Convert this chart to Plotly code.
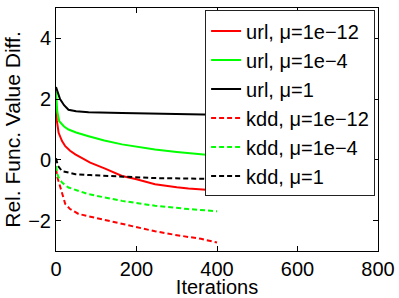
import plotly.graph_objects as go

# url, mu=1e-12 (red solid)
url_e12_x = [0, 2, 6.5, 15, 23, 35, 48, 64, 85, 122, 164, 200, 246, 300, 329, 408, 460, 500]
url_e12_y = [1.76, 1.3, 0.89, 0.62, 0.45, 0.3, 0.18, 0.07, -0.09, -0.29, -0.53, -0.64, -0.8, -0.9, -0.94, -1.02, -1.08, -1.15]
# url, mu=1e-4 (green solid)
url_e4_x = [0, 3, 8, 20, 31, 50, 81, 120, 164, 200, 246, 300, 383, 440, 500]
url_e4_y = [2.25, 1.6, 1.27, 1.1, 1.0, 0.9, 0.78, 0.64, 0.51, 0.43, 0.34, 0.26, 0.15, 0.09, 0.04]
# url, mu=1 (black solid)
url_1_x = [0, 5, 10, 20, 31, 50, 81, 164, 246, 383, 500]
url_1_y = [2.4, 2.18, 2.0, 1.8, 1.65, 1.6, 1.57, 1.54, 1.52, 1.49, 1.46]
# kdd, mu=1e-12 (red dashed)
kdd_e12_x = [0, 4, 11, 17, 23, 35, 56, 98, 164, 246, 296, 329, 360, 400]
kdd_e12_y = [-0.3, -0.6, -0.91, -1.2, -1.45, -1.62, -1.78, -1.91, -2.11, -2.35, -2.47, -2.54, -2.6, -2.72]
# kdd, mu=1e-4 (green dashed)
kdd_e4_x = [0, 3, 6.5, 15, 31, 81, 164, 246, 329, 400]
kdd_e4_y = [-0.2, -0.45, -0.58, -0.75, -0.91, -1.13, -1.35, -1.51, -1.62, -1.69]
# kdd, mu=1 (black dashed)
kdd_1_x = [0, 5, 15, 48, 85, 164, 246, 362, 400]
kdd_1_y = [0.05, -0.2, -0.37, -0.47, -0.5, -0.56, -0.6, -0.62, -0.63]

names = ["url, μ=1e−12", "url, μ=1e−4", "url, μ=1",
         "kdd, μ=1e−12", "kdd, μ=1e−4", "kdd, μ=1"]
xs = [url_e12_x, url_e4_x, url_1_x, kdd_e12_x, kdd_e4_x, kdd_1_x]
ys = [url_e12_y, url_e4_y, url_1_y, kdd_e12_y, kdd_e4_y, kdd_1_y]
colors = ["#ff0000", "#00ff00", "#000000", "#ff0000", "#00ff00", "#000000"]
dashes = ["solid", "solid", "solid", "5px,3px", "5px,3px", "5px,3px"]

x_ticks = [0, 200, 400, 600, 800]
y_ticks = [-2, 0, 2, 4]

fig = go.Figure()
for i in range(6):
    fig.add_trace(go.Scatter(x=xs[i], y=ys[i], mode="lines", name=names[i],
                             line=dict(color=colors[i], width=2, dash=dashes[i])))

font = "Liberation Sans, Arial, Helvetica, sans-serif"
fig.update_layout(
    width=399, height=298,
    margin=dict(l=56, r=21, t=8, b=47, autoexpand=False),
    paper_bgcolor="white", plot_bgcolor="white",
    font=dict(family=font, size=20, color="black"),
    showlegend=True,
    legend=dict(x=0.991, y=0.99, xanchor="right", yanchor="top",
                bgcolor="white", bordercolor="#222", borderwidth=1,
                font=dict(size=20), itemwidth=30, tracegroupgap=0),
    xaxis=dict(range=[0, 800], tickvals=x_ticks, ticks="inside", ticklen=5,
               showline=True, linecolor="black", linewidth=1, mirror="ticks",
               showgrid=False, zeroline=False, tickcolor="black", automargin=False,
               title=dict(text="Iterations", font=dict(size=20), standoff=0)),
    yaxis=dict(range=[-3, 5], tickvals=y_ticks, ticks="inside", ticklen=5,
               showline=True, linecolor="black", linewidth=1, mirror="ticks",
               showgrid=False, zeroline=False, tickcolor="black", automargin=False,
               title=dict(text="Rel. Func. Value Diff.", font=dict(size=21), standoff=1)),
)

fig.write_html("out.html", config={"displayModeBar": False},
               post_script="document.body.style.margin='0';")
